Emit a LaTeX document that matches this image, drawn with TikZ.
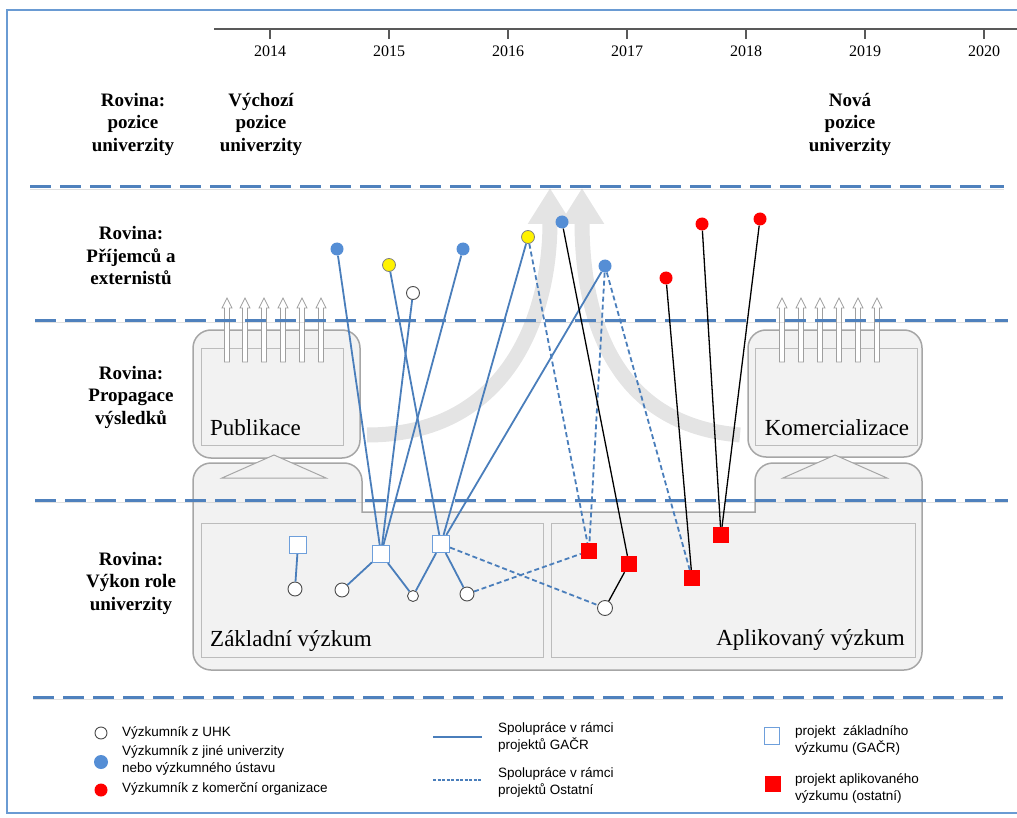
\documentclass[tikz,border=0pt]{standalone}
\usepackage{fontspec}
\setmainfont{Liberation Serif}
\newfontfamily\legendfont{Liberation Sans}
\usepackage{xcolor}
\usetikzlibrary{arrows.meta,positioning}
\definecolor{planeblue}{HTML}{4F81BD}
\definecolor{linkblue}{HTML}{4A7EBB}
\definecolor{dotblue}{HTML}{558ED5}
\definecolor{frameblue}{HTML}{6A9BD3}
\definecolor{boxgray}{HTML}{F2F2F2}
\definecolor{edgegray}{HTML}{A6A6A6}
\definecolor{arcgray}{HTML}{E4E4E4}

\begin{document}
\begin{tikzpicture}[x=1pt, y=-1pt,
  plane/.style={draw=planeblue, line width=3pt, dash pattern=on 21pt off 9pt,
    preaction={draw=black!40, opacity=.3, transform canvas={yshift=-2pt}}},
  level/.style={font=\fontsize{19}{22.5}\selectfont\bfseries, align=center, inner sep=0pt},
  yearlbl/.style={font=\fontsize{16}{18}\selectfont, inner sep=0pt},
  boxtext/.style={font=\fontsize{23}{26}\selectfont, inner sep=0pt},
  legend/.style={font=\legendfont\fontsize{13.5}{17}\selectfont, align=left, anchor=west, inner sep=0pt},
  gac/.style={draw=linkblue, line width=1.8pt},
  oth/.style={gac, dash pattern=on 5pt off 3pt},
  com/.style={draw=black, line width=1.3pt},
  dot/.style={circle, inner sep=0pt, minimum size=13pt},
  uni/.style={dot, fill=dotblue},
  ylw/.style={dot, fill=yellow, draw=gray, line width=.8pt},
  uhk/.style={dot, fill=white, draw=black!70, line width=.9pt, minimum size=14pt},
  firm/.style={dot, fill=red},
  basic/.style={rectangle, inner sep=0pt, minimum size=17pt, fill=white, draw=dotblue!85, line width=1.2pt},
  appl/.style={rectangle, inner sep=0pt, minimum size=16pt, fill=red},
  pad/.style={draw=edgegray, line width=1.5pt, fill=boxgray, rounded corners=18pt},
  sheet/.style={draw=edgegray!75, line width=1pt, fill=boxgray},
  ring/.style={draw=gray!75, fill=white, line width=.8pt},
  flow/.style={draw=arcgray, line width=15pt, -{Triangle[width=42pt,length=36pt]}}]

  \useasboundingbox (0,0) rectangle (1017,818);
  \draw[frameblue, line width=2pt] (7,10) rectangle (1040,813);

  \draw[black!65, line width=1.2pt] (214,29) -- (1017,29);
  \foreach \yr [count=\i from 0] in {2014,...,2020} {
    \draw[black!65, line width=1.2pt] ({270+119*\i},29) -- ++(0,10);
    \node[yearlbl] at ({270+119*\i},51) {\yr};
  }

  \draw[flow] (367,435) .. controls (505,435) and (550,320) .. (550,188);
  \draw[flow] (740,435) .. controls (615,425) and (582,320) .. (582,188);

  \draw[pad] (193,330) rectangle (360,458);
  \draw[sheet] (201,348) rectangle (343,445);
  \draw[pad] (748,330) rectangle (922,457);
  \draw[sheet] (755,348) rectangle (917,445);
  \foreach \x in {227,245,264,283,302,321,782,801,820,839,858,877}
    \draw[ring] ({\x-2.5},362) -- ({\x-2.5},308) -- ({\x-5},308) -- (\x,298) -- ({\x+5},308) -- ({\x+2.5},308) -- ({\x+2.5},362) -- cycle;
  \draw[pad] (193,566) -- (193,463) -- (362,463) [sharp corners] -- (362,512) -- (755,512)
    [rounded corners=18pt] -- (755,463) -- (922,463) -- (922,670) -- (193,670) -- cycle;
  \draw[sheet, draw=edgegray] (274,455) -- (326,478) -- (222,478) -- cycle;
  \draw[sheet, draw=edgegray] (835,455) -- (887,478) -- (783,478) -- cycle;
  \draw[sheet] (201,523) rectangle (543,657);
  \draw[sheet] (551,523) rectangle (915,657);
  \node[boxtext, anchor=base west] (publ) at (210,435) {Publikace};
  \node[boxtext, anchor=base] (komer) at (837,435) {Komercializace};
  \node[boxtext, anchor=base west] (zakl) at (210,646) {Základní výzkum};
  \node[boxtext, anchor=base east] (apl) at (905,645) {Aplikovaný výzkum};

  \foreach \y/\a/\b in {187/30/1004, 320/35/1008, 500/35/1008, 697/33/1003}
    \draw[plane] (\a,\y) -- (\b,\y);

  \node[level] (lvPos) at (133,124) {Rovina:\\pozice\\univerzity};
  \node[level] (lvStart) at (261,124) {Výchozí\\pozice\\univerzity};
  \node[level] (lvNew) at (850,124) {Nová\\pozice\\univerzity};
  \node[level] (lvExt) at (131,256) {Rovina:\\Příjemců a\\externistů};
  \node[level] (lvProp) at (131,397) {Rovina:\\Propagace\\výsledků};
  \node[level] (lvRole) at (131,583) {Rovina:\\Výkon role\\univerzity};

  \node[uni] (bl1) at (337,249) {};
  \node[ylw] (yl1) at (389,265) {};
  \node[uhk, minimum size=13pt] (wh1) at (413,293) {};
  \node[uni] (bl2) at (463,249) {};
  \node[ylw] (yl2) at (528,237) {};
  \node[uni] (bl3) at (562,222) {};
  \node[uni] (bl4) at (605,266) {};
  \node[firm] (rd1) at (666,278) {};
  \node[firm] (rd2) at (702,224) {};
  \node[firm] (rd3) at (760,219) {};

  \node[basic] (sq1) at (298,545) {};
  \node[basic] (sq2) at (381,554) {};
  \node[basic] (sq3) at (441,544) {};
  \node[uhk] (uh1) at (295,589) {};
  \node[uhk] (uh2) at (342,590) {};
  \node[uhk, minimum size=11pt] (uh3) at (413,596) {};
  \node[uhk] (uh4) at (467,594) {};
  \node[uhk, minimum size=15pt] (uh5) at (605,608) {};
  \node[appl] (ap1) at (589,551) {};
  \node[appl] (ap2) at (629,564) {};
  \node[appl] (ap3) at (692,578) {};
  \node[appl] (ap4) at (721,535) {};

  \draw[gac] (bl1) -- (sq2); \draw[gac] (wh1) -- (sq2); \draw[gac] (bl2) -- (sq2);
  \draw[gac] (yl1) -- (sq3); \draw[gac] (yl2) -- (sq3); \draw[gac] (bl4) -- (sq3);
  \draw[gac] (sq1) -- (uh1); \draw[gac] (sq2) -- (uh2); \draw[gac] (sq2) -- (uh3);
  \draw[gac] (sq3) -- (uh3); \draw[gac] (sq3) -- (uh4);
  \draw[oth] (yl2) -- (ap1); \draw[oth] (bl4) -- (ap1); \draw[oth] (bl4) -- (ap3);
  \draw[oth] (sq3) -- (uh5); \draw[oth] (uh4) -- (ap1);
  \draw[com] (bl3) -- (ap2); \draw[com] (ap2) -- (uh5); \draw[com] (rd1) -- (ap3);
  \draw[com] (rd2) -- (ap4); \draw[com] (rd3) -- (ap4);

  \node[uhk, minimum size=12pt] (lgUhk) at (101,733) {};
  \node[legend] (lgUhkT) at (122,733) {Výzkumník z UHK};
  \node[uni, minimum size=14pt] (lgUni) at (101,762) {};
  \node[legend] (lgUniT) at (122,760) {Výzkumník z jiné univerzity\\nebo výzkumného ústavu};
  \node[firm] (lgFirm) at (101,790) {};
  \node[legend] (lgFirmT) at (122,789) {Výzkumník z komerční organizace};
  \coordinate (lgG1) at (433,737); \coordinate (lgG2) at (482,737);
  \draw[gac, line width=2.5pt] (lgG1) -- (lgG2);
  \node[legend] (lgGT) at (498,737) {Spolupráce v rámci\\projektů GAČR};
  \coordinate (lgO1) at (433,780); \coordinate (lgO2) at (482,780);
  \draw[oth, line width=2pt, dash pattern=on 3pt off 1.5pt] (lgO1) -- (lgO2);
  \node[legend] (lgOT) at (498,782) {Spolupráce v rámci\\projektů Ostatní};
  \node[basic, minimum width=15pt, minimum height=17pt] (lgBas) at (772,736) {};
  \node[legend] (lgBasT) at (795,740) {projekt\ \ základního\\výzkumu (GAČR)};
  \node[appl] (lgApl) at (773,784) {};
  \node[legend] (lgAplT) at (795,788) {projekt aplikovaného\\výzkumu (ostatní)};
\end{tikzpicture}
\end{document}
